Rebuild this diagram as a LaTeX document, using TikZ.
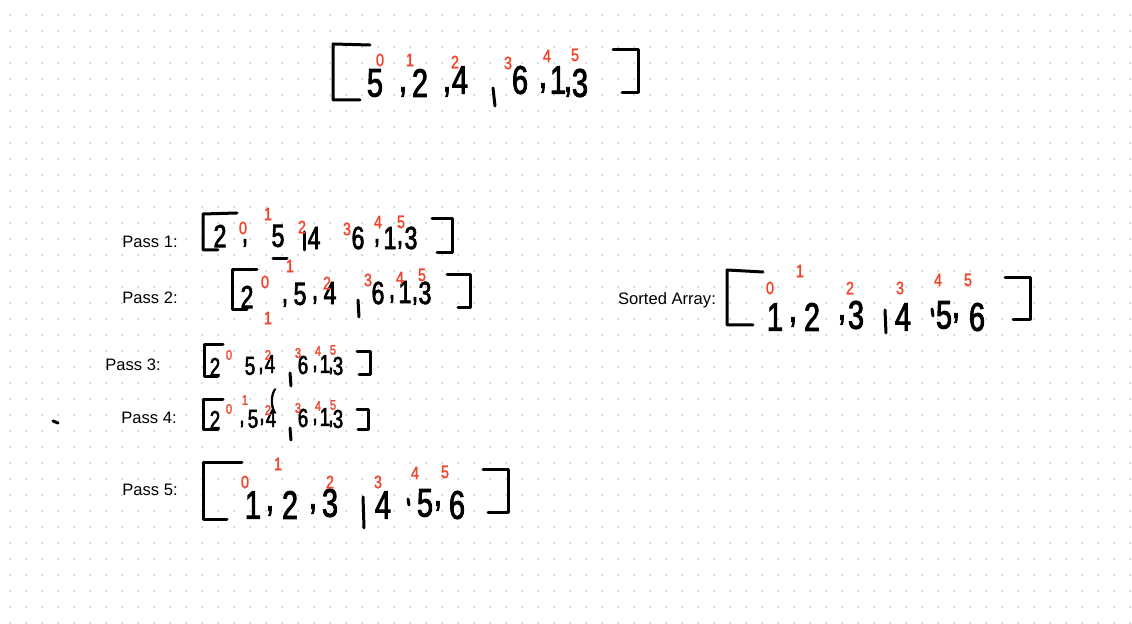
\documentclass[tikz,border=0pt]{standalone}
\usepackage{fontspec}
\setmainfont{Liberation Sans}
\newfontfamily\handfont[FakeStretch=0.72,FakeBold=2.2]{Liberation Sans}
\newfontfamily\idxfont[FakeStretch=0.8,FakeBold=1.5]{Liberation Sans}
\usepackage{tikz}
\usetikzlibrary{positioning}
\definecolor{inkred}{RGB}{240,68,45}
\definecolor{dotgray}{RGB}{222,222,222}
\tikzset{
  brk/.style={line width=1.5pt,line cap=round,line join=round},
  dgbig/.style={inner sep=0pt,font=\handfont\fontsize{20}{20}\selectfont},
  dgmid/.style={inner sep=0pt,font=\handfont\fontsize{16}{16}\selectfont},
  dgsml/.style={inner sep=0pt,font=\handfont\fontsize{13}{13}\selectfont},
  idx/.style={inner sep=0pt,text=inkred,font=\idxfont\fontsize{9}{9}\selectfont},
  idxs/.style={inner sep=0pt,text=inkred,font=\idxfont\fontsize{7}{7}\selectfont},
  plab/.style={inner sep=0pt,font=\fontsize{8.3}{10}\selectfont},
  every picture/.style={x=0.5pt,y=-0.5pt}
}

\begin{document}
\begin{tikzpicture}
  \useasboundingbox (0,0) rectangle (1132,624);
  % dotted canvas
  \foreach \i in {0,...,70}
    \foreach \j in {0,...,38}
      \fill[dotgray] (9+16*\i,14+16*\j) rectangle ++(2,2);
  \draw[brk] (53,421) -- (58,423);

  % unsorted array
  \draw[brk] (370,45) -- (333,44) -- (333,100) -- (360,100);
  \draw[brk] (613,50) -- (638,50) -- (638,93) -- (622,93);
  \foreach \x/\y/\v [count=\k] in {375/83/5,420/83/2,460/80/4,520/80/6,558/80/1,580/83/3}
    \node[dgbig] (t\k) at (\x,\y) {\v};
  \foreach \x/\y [count=\k] in {403/92,447/92,543/88,568/92}
    \node[dgbig] (tc\k) at (\x,\y) {,};
  \draw[brk] (493,88) -- (495,106);
  \foreach \x/\y/\v [count=\k] in {380/60/0,410/60/1,455/62/2,508/63/3,547/56/4,575/55/5}
    \node[idx] (ti\k) at (\x,\y) {\v};

  % pass 1
  \node[plab] (pass1) at (150,242) {Pass 1:};
  \draw[brk] (237,213) -- (203,214) -- (203,250) -- (218,250);
  \draw[brk] (432,219) -- (452,219) -- (452,253) -- (437,253);
  \foreach \x/\y/\v [count=\k] in {220/236/2,278/236/5,314/238/4,358/238/6,390/238/1,411/238/3}
    \node[dgmid] (p1d\k) at (\x,\y) {\v};
  \foreach \x/\y [count=\k] in {245/243,377/243,400/245}
    \node[dgmid] (p1c\k) at (\x,\y) {,};
  \draw[brk] (273,259) -- (287,259);
  \draw[brk] (304,232) -- (304,250);
  \foreach \x/\y/\v [count=\k] in {243/228/0,268/214/1,302/227/2,347/229/3,378/222/4,401/222/5}
    \node[idx] (p1i\k) at (\x,\y) {\v};

  % pass 2
  \node[plab] (pass2) at (150,298) {Pass 2:};
  \draw[brk] (257,270) -- (232,270) -- (232,310) -- (247,310);
  \draw[brk] (447,275) -- (470,275) -- (470,308) -- (458,308);
  \foreach \x/\y/\v [count=\k] in {247/297/2,300/294/5,330/293/4,378/293/6,405/292/1,425/293/3}
    \node[dgmid] (p2d\k) at (\x,\y) {\v};
  \foreach \x/\y [count=\k] in {285/303,315/300,392/299,415/301}
    \node[dgmid] (p2c\k) at (\x,\y) {,};
  \draw[brk] (358,300) -- (359,317);
  \foreach \x/\y/\v [count=\k] in {265/282/0,290/266/1,327/283/2,368/280/3,400/278/4,422/275/5}
    \node[idx] (p2i\k) at (\x,\y) {\v};
  \node[idx] (p2i7) at (268,318) {1};

  % pass 3
  \node[plab] (pass3) at (133,365) {Pass 3:};
  \draw[brk] (223,345) -- (204,345) -- (204,377) -- (218,377);
  \draw[brk] (357,352) -- (370,352) -- (370,375) -- (359,375);
  \foreach \x/\y/\v [count=\k] in {215/367/2,250/366/5,270/364/4,303/365/6,325/364/1,338/366/3}
    \node[dgsml] (p3d\k) at (\x,\y) {\v};
  \foreach \x/\y [count=\k] in {261/371,315/369,331/371}
    \node[dgsml] (p3c\k) at (\x,\y) {,};
  \draw[brk] (290,373) -- (291,386);
  \foreach \x/\y/\v [count=\k] in {229/355/0,268/355/2,298/353/3,318/351/4,333/350/5}
    \node[idxs] (p3i\k) at (\x,\y) {\v};

  % pass 4
  \node[plab] (pass4) at (149,418) {Pass 4:};
  \draw[brk] (223,400) -- (203,400) -- (203,430) -- (218,430);
  \draw[brk] (357,410) -- (368,410) -- (368,430) -- (358,430);
  \foreach \x/\y/\v [count=\k] in {215/420/2,253/419/5,271/418/4,303/418/6,325/417/1,338/419/3}
    \node[dgsml] (p4d\k) at (\x,\y) {\v};
  \foreach \x/\y [count=\k] in {242/424,262/422,315/422,331/424}
    \node[dgsml] (p4c\k) at (\x,\y) {,};
  \node[dgsml] (p4p) at (273,401) {(};
  \draw[brk] (290,428) -- (291,440);
  \foreach \x/\y/\v [count=\k] in {229/409/0,245/400/1,268/410/2,298/408/3,318/406/4,333/405/5}
    \node[idxs] (p4i\k) at (\x,\y) {\v};

  % pass 5
  \node[plab] (pass5) at (150,490) {Pass 5:};
  \draw[brk] (242,463) -- (203,463) -- (203,520) -- (227,520);
  \draw[brk] (483,470) -- (508,470) -- (508,513) -- (488,513);
  \foreach \x/\y/\v [count=\k] in {253/505/1,290/505/2,330/503/3,383/505/4,425/503/5,457/505/6}
    \node[dgbig] (p5d\k) at (\x,\y) {\v};
  \foreach \x/\y [count=\k] in {270/511,313/509,438/506}
    \node[dgbig] (p5c\k) at (\x,\y) {,};
  \draw[brk] (363,497) -- (364,528);
  \draw[brk] (408,499) -- (409,505);
  \foreach \x/\y/\v [count=\k] in {245/482/0,278/464/1,330/482/2,378/482/3,415/473/4,445/472/5}
    \node[idx] (p5i\k) at (\x,\y) {\v};

  % sorted result
  \node[plab] (sorted) at (667,300) {Sorted Array:};
  \draw[brk] (763,272) -- (727,270) -- (727,325) -- (753,325);
  \draw[brk] (1005,278) -- (1030,278) -- (1030,320) -- (1013,320);
  \foreach \x/\y/\v [count=\k] in {775/317/1,812/317/2,856/315/3,903/317/4,944/315/5,977/317/6}
    \node[dgbig] (sd\k) at (\x,\y) {\v};
  \foreach \x/\y [count=\k] in {793/322,842/320,956/318}
    \node[dgbig] (sc\k) at (\x,\y) {,};
  \draw[brk] (885,310) -- (886,333);
  \draw[brk] (932,309) -- (933,316);
  \foreach \x/\y/\v [count=\k] in {770/288/0,800/271/1,850/288/2,900/288/3,938/280/4,968/280/5}
    \node[idx] (si\k) at (\x,\y) {\v};
\end{tikzpicture}
\end{document}
